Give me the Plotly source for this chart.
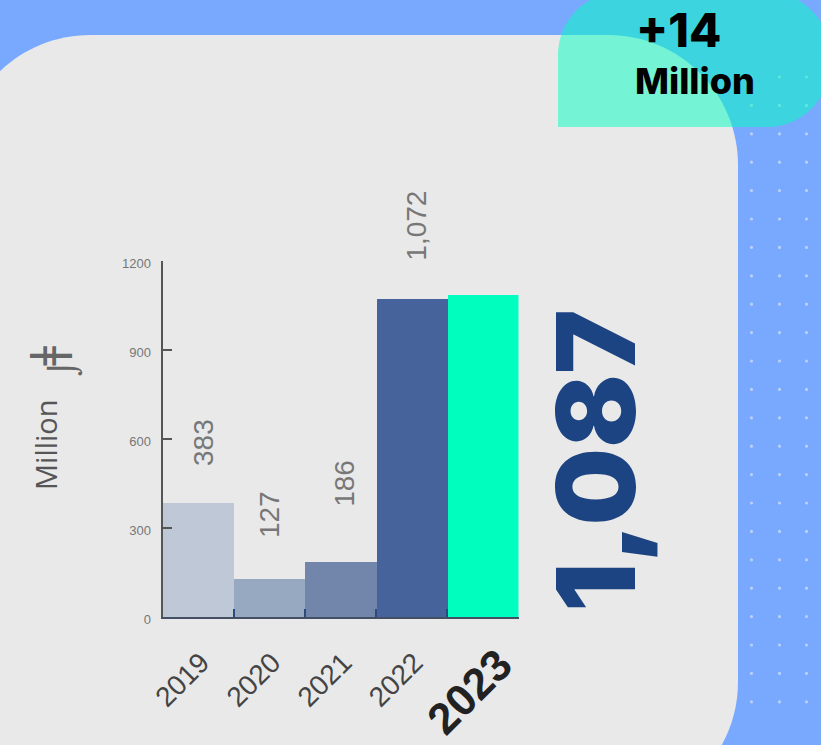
import plotly.graph_objects as go

W, H = 821, 745

# Chart data
years = ["2019", "2020", "2021", "2022", "2023"]
values = [383, 127, 186, 1072, 1087]
value_labels = ["383", "127", "186", "1,072"]
bar_colors = ["#BFC8D6", "#97A8C1", "#7285AB", "#46649B", "#00FFBF"]
y_ticks = [0, 300, 600, 900, 1200]
headline_total = "1,087"
headline_change = "+14"
unit_word = "Million"
currency_bars = "ǂ"
currency_hook = "⌡"


def px(x):
    return x / W


def py(y):
    return 1 - y / H


def rounded_panel():
    """Grey card: rounded corners, running off the left and bottom edges."""
    left, top, right, bottom = -40, 35, 738, 812
    r = 130
    k = 0.5523 * r
    return (
        f"M{px(left)},{py(top + r)} "
        f"C{px(left)},{py(top + r - k)} {px(left + r - k)},{py(top)} {px(left + r)},{py(top)} "
        f"L{px(right - r)},{py(top)} "
        f"C{px(right - r + k)},{py(top)} {px(right)},{py(top + r - k)} {px(right)},{py(top + r)} "
        f"L{px(right)},{py(bottom - r)} "
        f"C{px(right)},{py(bottom - r + k)} {px(right - r + k)},{py(bottom)} {px(right - r)},{py(bottom)} "
        f"L{px(left)},{py(bottom)} Z"
    )


def badge():
    """Translucent badge: square lower-left corner, others rounded."""
    left, top, right, bottom = 558, -8, 830, 127
    r = 63
    k = 0.5523 * r
    return (
        f"M{px(left)},{py(bottom)} "
        f"L{px(left)},{py(top + r)} "
        f"C{px(left)},{py(top + r - k)} {px(left + r - k)},{py(top)} {px(left + r)},{py(top)} "
        f"L{px(right - r)},{py(top)} "
        f"C{px(right - r + k)},{py(top)} {px(right)},{py(top + r - k)} {px(right)},{py(top + r)} "
        f"L{px(right)},{py(bottom - r)} "
        f"C{px(right)},{py(bottom - r + k)} {px(right - r + k)},{py(bottom)} {px(right - r)},{py(bottom)} "
        f"Z"
    )


shapes = [dict(type="path", xref="paper", yref="paper", path=rounded_panel(),
               fillcolor="#E9E9E9", line_width=0, layer="below")]

# Dot texture on the blue strip
for row in range(23):
    cy = 77 + row * 28.4
    for cx in (751.5, 779.5, 806.5):
        shapes.append(dict(type="circle", xref="paper", yref="paper",
                           x0=px(cx - 1.6), x1=px(cx + 1.6),
                           y0=py(cy + 1.6), y1=py(cy - 1.6),
                           fillcolor="#BCD0F6", line_width=0, layer="below"))

shapes.append(dict(type="path", xref="paper", yref="paper", path=badge(),
                   fillcolor="rgba(0,255,191,0.5)", line_width=0, layer="below"))

fig = go.Figure(go.Bar(
    x=years,
    y=values,
    marker=dict(color=bar_colors, line_width=0),
    width=1,
    hoverinfo="skip",
))

annotations = []

# Vertical value labels above the first four bars
label_gaps = [35, 39, 53, 36]
label_nudges = [6, 1, 4, 5]
for i, (val, text, gap, nudge) in enumerate(zip(values, value_labels, label_gaps, label_nudges)):
    annotations.append(dict(
        x=i, y=val, xref="x", yref="y", text=text, showarrow=False,
        textangle=-90, xanchor="center", yanchor="bottom",
        xshift=nudge, yshift=gap,
        font=dict(family="Liberation Sans", size=28, color="#777777"),
    ))

annotations += [
    # Emphasised latest year, larger than the other axis labels
    dict(x=4, y=0, xref="x", yref="y", text=years[-1], showarrow=False,
         textangle=-45, xanchor="center", yanchor="middle", xshift=-14, yshift=-74,
         font=dict(family="Liberation Sans", size=44, color="#222222", weight=700)),
    dict(x=px(595), y=py(461), xref="paper", yref="paper", text=headline_total,
         showarrow=False, textangle=-90, xanchor="center", yanchor="middle",
         font=dict(family="Inter", size=109, color="#1C4382", weight=900)),
    dict(x=px(678), y=py(30), xref="paper", yref="paper", text=headline_change,
         showarrow=False, xanchor="center", yanchor="middle",
         font=dict(family="Inter", size=47, color="#000000", weight=800)),
    dict(x=px(695), y=py(81), xref="paper", yref="paper", text=unit_word,
         showarrow=False, xanchor="center", yanchor="middle",
         font=dict(family="Inter", size=36, color="#000000", weight=800)),
    dict(x=px(45), y=py(445), xref="paper", yref="paper", text=unit_word,
         showarrow=False, textangle=-90, xanchor="center", yanchor="middle",
         font=dict(family="Open Sans", size=29, color="#555555")),
    dict(x=px(47), y=py(356), xref="paper", yref="paper", text=currency_bars,
         showarrow=False, textangle=-90, xanchor="center", yanchor="middle",
         font=dict(family="DejaVu Sans", size=44, color="#666666")),
    dict(x=px(64), y=py(368), xref="paper", yref="paper", text=currency_hook,
         showarrow=False, textangle=-90, xanchor="center", yanchor="middle",
         font=dict(family="DejaVu Sans", size=30, color="#666666")),
]

year_ticks = years[:-1] + [" "]

fig.update_layout(
    width=W,
    height=H,
    margin=dict(l=0, r=0, t=0, b=0, autoexpand=False),
    paper_bgcolor="#78A9FF",
    plot_bgcolor="rgba(0,0,0,0)",
    showlegend=False,
    bargap=0,
    shapes=shapes,
    annotations=annotations,
    xaxis=dict(
        domain=[px(162.5), px(518.5)],
        type="category",
        categoryorder="array",
        categoryarray=years,
        range=[-0.5, 4.5],
        automargin=False,
        tickmode="array",
        tickvals=list(range(len(years))),
        ticktext=year_ticks,
        tickangle=-45,
        ticks="inside",
        tickson="boundaries",
        ticklen=8,
        tickwidth=2,
        tickcolor="#2C4A7C",
        showline=True,
        linecolor="#454F63",
        linewidth=2,
        showgrid=False,
        zeroline=False,
        ticklabelstandoff=16,
        ticklabelshift=3,
        tickfont=dict(family="Liberation Sans", size=28, color="#444444"),
    ),
    yaxis=dict(
        domain=[py(617), py(261)],
        range=[0, 1200],
        automargin=False,
        tickmode="array",
        tickvals=y_ticks,
        ticks="inside",
        ticklen=9,
        tickwidth=2,
        tickcolor="#555555",
        showline=True,
        linecolor="#555555",
        linewidth=2,
        showgrid=False,
        zeroline=False,
        ticklabelstandoff=7,
        ticklabelshift=2,
        tickfont=dict(family="Liberation Sans", size=13, color="#777777"),
    ),
)

fig.write_html("out.html")
